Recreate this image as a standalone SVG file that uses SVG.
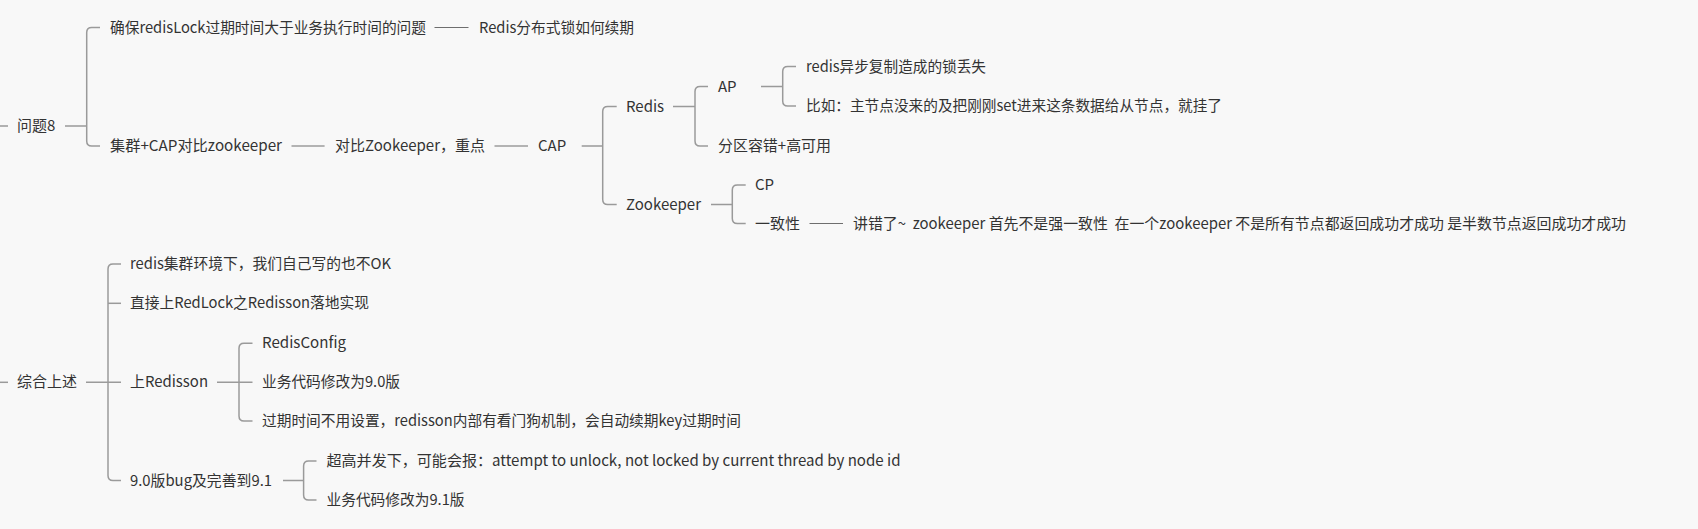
<svg xmlns="http://www.w3.org/2000/svg" width="1698" height="529" viewBox="0 0 1698 529">
<style>
.t{font-family:"Microsoft YaHei","Noto Sans CJK SC","Noto Sans",sans-serif;font-size:15px;fill:#333333;}
.c{fill:none;stroke:#9a9a9a;stroke-width:1.5;}
.s{fill:none;stroke:#6e6e6e;stroke-width:1;}
</style>
<rect x="0" y="0" width="1698" height="529" fill="#f8f8f8"/>
<g id="connectors">
<path class="c" d="M0,126 H8"/>
<path class="c" d="M65,126 H86.7"/>
<path class="c" d="M100,27.5 H91.7 Q86.7,27.5 86.7,32.5 V141 Q86.7,146 91.7,146 H100"/>
<path class="s" d="M434.5,27.5 H468.5"/>
<path class="s" d="M291.5,146 H324.6"/>
<path class="s" d="M494.5,146 H528"/>
<path class="c" d="M581.7,146 H602.7"/>
<path class="c" d="M616.7,106.5 H607.7 Q602.7,106.5 602.7,111.5 V199.5 Q602.7,204.5 607.7,204.5 H616.7"/>
<path class="c" d="M673,106.5 H695"/>
<path class="c" d="M708,86.5 H700 Q695,86.5 695,91.5 V141 Q695,146 700,146 H708"/>
<path class="c" d="M761,86.5 H782.7"/>
<path class="c" d="M796,66.5 H787.7 Q782.7,66.5 782.7,71.5 V101 Q782.7,106 787.7,106 H796"/>
<path class="c" d="M711,204.5 H732.3"/>
<path class="c" d="M745.7,185 H737.3 Q732.3,185 732.3,190 V218.5 Q732.3,223.5 737.3,223.5 H745.7"/>
<path class="s" d="M809.5,223.5 H843"/>
<path class="c" d="M0,382.3 H8"/>
<path class="c" d="M86,382.3 H121"/>
<path class="c" d="M121,264 H113 Q108,264 108,269 V475.5 Q108,480.5 113,480.5 H121"/>
<path class="c" d="M108,303.3 H121"/>
<path class="c" d="M217,382.3 H252.5"/>
<path class="c" d="M252.5,343.3 H244 Q239,343.3 239,348.3 V416 Q239,421 244,421 H252.5"/>
<path class="c" d="M283,480.5 H303.6"/>
<path class="c" d="M316.5,461 H308.6 Q303.6,461 303.6,466 V495 Q303.6,500 308.6,500 H316.5"/>
</g>
<g id="n-q8"><text class="t" x="17" y="131">问题8</text></g>
<g id="n-ensure"><text class="t" x="110" y="32.5" textLength="316" lengthAdjust="spacingAndGlyphs">确保redisLock过期时间大于业务执行时间的问题</text></g>
<g id="n-renew"><text class="t" x="479" y="32.5" textLength="155" lengthAdjust="spacingAndGlyphs">Redis分布式锁如何续期</text></g>
<g id="n-cluster"><text class="t" x="110" y="151" textLength="172" lengthAdjust="spacingAndGlyphs">集群+CAP对比zookeeper</text></g>
<g id="n-vszk"><text class="t" x="335" y="151" textLength="150" lengthAdjust="spacingAndGlyphs">对比Zookeeper，重点</text></g>
<g id="n-cap"><text class="t" x="538" y="151">CAP</text></g>
<g id="n-redis"><text class="t" x="626" y="111.5">Redis</text></g>
<g id="n-ap"><text class="t" x="718" y="91.5">AP</text></g>
<g id="n-ap1"><text class="t" x="806" y="71.5" textLength="180" lengthAdjust="spacingAndGlyphs">redis异步复制造成的锁丢失</text></g>
<g id="n-ap2"><text class="t" x="806" y="111" textLength="416" lengthAdjust="spacingAndGlyphs">比如：主节点没来的及把刚刚set进来这条数据给从节点，就挂了</text></g>
<g id="n-pa"><text class="t" x="718" y="151" textLength="113" lengthAdjust="spacingAndGlyphs">分区容错+高可用</text></g>
<g id="n-zk"><text class="t" x="626" y="209.5" textLength="75" lengthAdjust="spacingAndGlyphs">Zookeeper</text></g>
<g id="n-cp"><text class="t" x="755" y="190">CP</text></g>
<g id="n-cons"><text class="t" x="755" y="228.5">一致性</text></g>
<g id="n-cons1"><text class="t" x="853" y="228.5" xml:space="preserve" textLength="773" lengthAdjust="spacingAndGlyphs">讲错了~  zookeeper 首先不是强一致性  在一个zookeeper 不是所有节点都返回成功才成功 是半数节点返回成功才成功</text></g>
<g id="n-summary"><text class="t" x="17" y="387.3">综合上述</text></g>
<g id="n-m1"><text class="t" x="130" y="269" textLength="261" lengthAdjust="spacingAndGlyphs">redis集群环境下，我们自己写的也不OK</text></g>
<g id="n-m2"><text class="t" x="130" y="308.3" textLength="239" lengthAdjust="spacingAndGlyphs">直接上RedLock之Redisson落地实现</text></g>
<g id="n-m3"><text class="t" x="130" y="387.3" textLength="78" lengthAdjust="spacingAndGlyphs">上Redisson</text></g>
<g id="n-m3a"><text class="t" x="262" y="348.3" textLength="84" lengthAdjust="spacingAndGlyphs">RedisConfig</text></g>
<g id="n-m3b"><text class="t" x="262" y="387.3" textLength="138" lengthAdjust="spacingAndGlyphs">业务代码修改为9.0版</text></g>
<g id="n-m3c"><text class="t" x="262" y="426" textLength="479" lengthAdjust="spacingAndGlyphs">过期时间不用设置，redisson内部有看门狗机制，会自动续期key过期时间</text></g>
<g id="n-m4"><text class="t" x="130" y="485.5" textLength="142" lengthAdjust="spacingAndGlyphs">9.0版bug及完善到9.1</text></g>
<g id="n-m4a"><text class="t" x="326.5" y="466" textLength="574" lengthAdjust="spacingAndGlyphs">超高并发下，可能会报：attempt to unlock, not locked by current thread by node id</text></g>
<g id="n-m4b"><text class="t" x="326.5" y="505" textLength="138" lengthAdjust="spacingAndGlyphs">业务代码修改为9.1版</text></g>
</svg>
